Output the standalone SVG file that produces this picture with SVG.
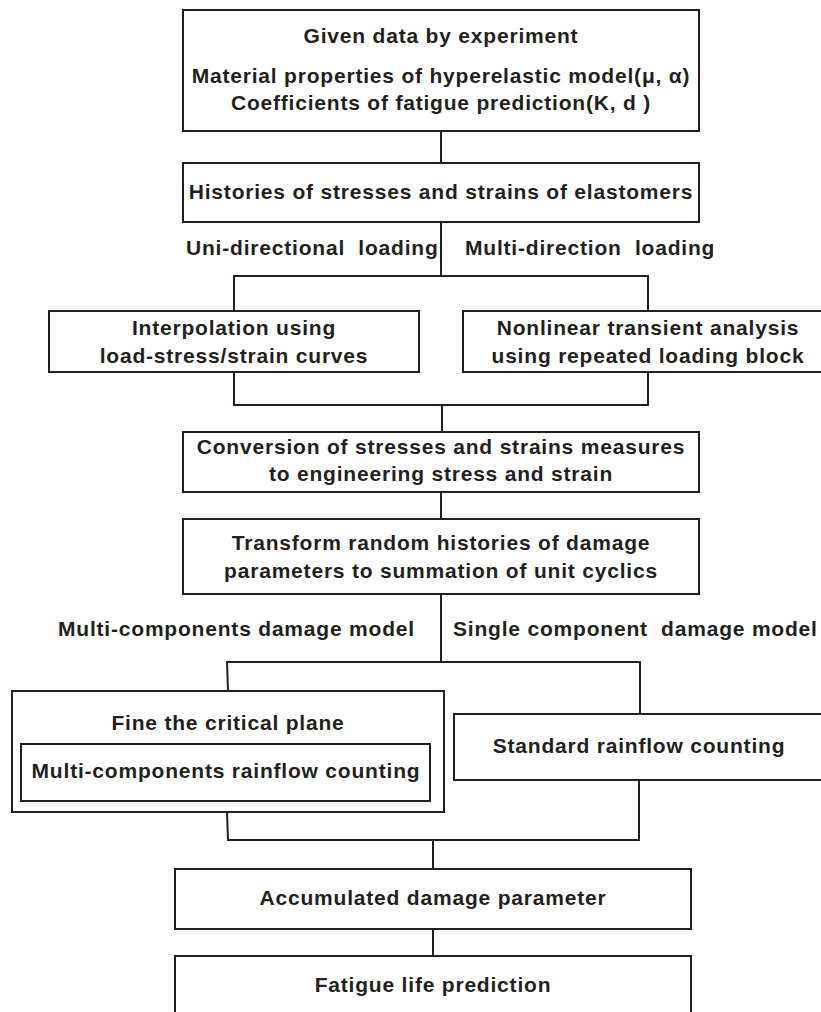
<svg xmlns="http://www.w3.org/2000/svg" width="821" height="1012" viewBox="0 0 821 1012">
<style>
.b{fill:#fff;stroke:#231f20;stroke-width:2}
.c{fill:none;stroke:#231f20;stroke-width:2}
text{font-family:"Liberation Sans",Arial,sans-serif;font-weight:bold;font-size:21px;letter-spacing:0.8px;fill:#231f20;white-space:pre}
.m{text-anchor:middle}
</style>
<rect width="821" height="1012" fill="#fff"/>
<g id="connectors">
<path class="c" d="M441 131V163"/>
<path class="c" d="M441 222V276M234 311V276H648V311"/>
<path class="c" d="M234 372V405H648V372M442 405V432"/>
<path class="c" d="M441 492V519"/>
<path class="c" d="M441 594V662M228 691L227 662H640V714"/>
<path class="c" d="M227 812L228 840H639V780M433 840V869"/>
<path class="c" d="M433 929V956"/>
</g>
<g id="labels">
<text x="186" y="255" xml:space="preserve">Uni-directional  loading</text>
<text x="465" y="255" xml:space="preserve">Multi-direction  loading</text>
<text x="58" y="636">Multi-components damage model</text>
<text x="453" y="636" xml:space="preserve">Single component  damage model</text>
</g>
<g id="n1">
<rect class="b" x="183" y="10" width="516" height="121"/>
<text class="m" x="441" y="43">Given data by experiment</text>
<text class="m" x="441" y="83">Material properties of hyperelastic model(μ, α)</text>
<text class="m" x="441" y="110">Coefficients of fatigue prediction(K, d )</text>
</g>
<g id="n2">
<rect class="b" x="183" y="163" width="516" height="59"/>
<text class="m" x="441" y="199">Histories of stresses and strains of elastomers</text>
</g>
<g id="n3">
<rect class="b" x="49" y="311" width="370" height="61"/>
<text class="m" x="234" y="335">Interpolation using</text>
<text class="m" x="234" y="363">load-stress/strain curves</text>
</g>
<g id="n4">
<rect class="b" x="463" y="311" width="370" height="61"/>
<text class="m" x="648" y="335">Nonlinear transient analysis</text>
<text class="m" x="648" y="363">using repeated loading block</text>
</g>
<g id="n5">
<rect class="b" x="183" y="432" width="516" height="60"/>
<text class="m" x="441" y="454">Conversion of stresses and strains measures</text>
<text class="m" x="441" y="481">to engineering stress and strain</text>
</g>
<g id="n6">
<rect class="b" x="183" y="519" width="516" height="75"/>
<text class="m" x="441" y="550">Transform random histories of damage</text>
<text class="m" x="441" y="578">parameters to summation of unit cyclics</text>
</g>
<g id="n7">
<rect class="b" x="12" y="691" width="432" height="121"/>
<text class="m" x="228" y="730">Fine the critical plane</text>
<rect class="b" x="21" y="744" width="409" height="57"/>
<text class="m" x="226" y="778">Multi-components rainflow counting</text>
</g>
<g id="n8">
<rect class="b" x="454" y="714" width="370" height="66"/>
<text class="m" x="639" y="753">Standard rainflow counting</text>
</g>
<g id="n9">
<rect class="b" x="175" y="869" width="516" height="60"/>
<text class="m" x="433" y="905">Accumulated damage parameter</text>
</g>
<g id="n10">
<rect class="b" x="175" y="956" width="516" height="80"/>
<text class="m" x="433" y="992">Fatigue life prediction</text>
</g>
</svg>
